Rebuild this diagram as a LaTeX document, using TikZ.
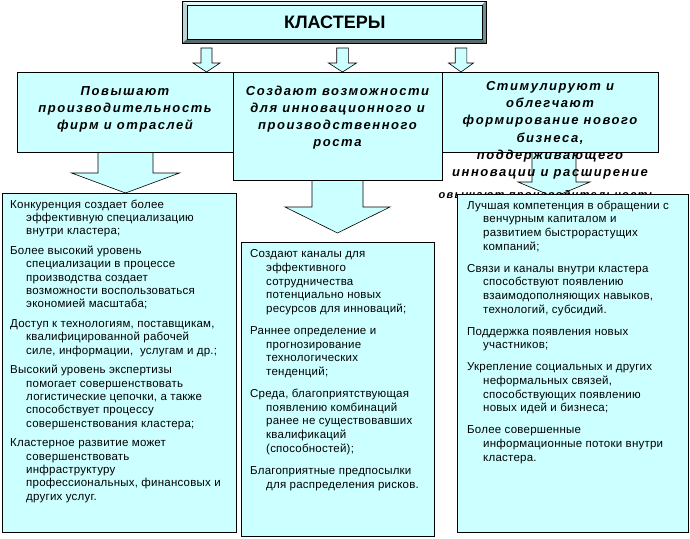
\documentclass[tikz,border=0pt]{standalone}
\usepackage{fontspec}
\setmainfont{Liberation Sans}
\newfontfamily\hdfont[LetterSpace=12]{Liberation Sans}
\newfontfamily\bdfont[LetterSpace=2]{Liberation Sans}
\definecolor{cl}{RGB}{204,255,255}
\definecolor{bevT}{RGB}{228,250,250}
\definecolor{bevL}{RGB}{185,215,215}
\definecolor{bevR}{RGB}{120,140,140}
\definecolor{bevB}{RGB}{90,105,105}
\newcommand{\barrow}[6]{%
  \draw[arr] ({#1-#5},#2) -- ({#1-#5},#3) -- ({#1-#6},#3) -- (#1,#4) -- ({#1+#6},#3) -- ({#1+#5},#3) -- ({#1+#5},#2) -- cycle;}
\newcommand{\ind}{\hspace*{16pt}}
\begin{document}
\begin{tikzpicture}[x=1pt,y=-1pt,
  box/.style={draw=black, fill=cl, line width=0.7pt},
  arr/.style={draw=black, fill=cl, line width=0.6pt},
  body/.style={font=\bdfont\fontsize{11.5}{#1}\selectfont, align=left, inner sep=0pt, anchor=base west},
  head/.style={font=\hdfont\bfseries\itshape\fontsize{13}{17}\selectfont, align=center, inner sep=0pt, anchor=base}]
\useasboundingbox (0,0) rectangle (690,538);
% title with bevel
\fill[bevB] (182,1) rectangle (486,43);
\fill[bevT] (182,1) -- (486,1) -- (482,5) -- (187,5) -- cycle;
\fill[bevL] (182,1) -- (187,5) -- (187,39) -- (182,43) -- cycle;
\fill[bevR] (486,1) -- (486,43) -- (482,39) -- (482,5) -- cycle;
\node[fill=cl, minimum width=295pt, minimum height=34pt, anchor=north west, inner sep=0pt] (title) at (187,5) {};
\draw[line width=0.6pt] (182,1) rectangle (486,43);
\draw[line width=0.4pt] (187,5) rectangle (482,39);
\node[font=\bfseries\fontsize{18}{20}\selectfont] (titletext) at (title.center) {КЛАСТЕРЫ};
% small arrows
\barrow{206.5}{48}{63}{72}{5.5}{13.5}
\barrow{342.5}{48}{63}{72}{5.8}{14}
\barrow{461}{48}{63}{72}{5.8}{12.5}
% big arrows (behind header boxes)
\barrow{125.5}{140}{173}{193}{27.5}{54}
\barrow{337.5}{170}{207}{233}{25.5}{52.5}
\barrow{554}{140}{182}{197}{22}{36}
% header boxes
\node[box, minimum width=216pt, minimum height=80pt, anchor=north west, inner sep=0pt] (h1) at (17,72) {};
\node[box, minimum width=216pt, minimum height=80pt, anchor=north west, inner sep=0pt] (h3) at (442,72) {};
\node[box, minimum width=209pt, minimum height=108pt, anchor=north west, inner sep=0pt] (h2) at (233,72) {};
% header texts (base anchor = baseline of last line)
\node[head] (t1) at (125,129.5) {Повышают\\производительность\\фирм и отраслей};
\node[head] (t2) at (337.5,146.5) {Создают возможности\\для инновационного и\\производственного\\роста};
\node[head, font=\hdfont\bfseries\itshape\fontsize{13}{17.2}\selectfont] (t3) at (550,176.5) {Стимулируют и\\облегчают\\формирование нового\\бизнеса,\\поддерживающего\\инновации и расширение};
\node[head, font=\hdfont\bfseries\itshape\fontsize{11}{13}\selectfont] (t3b) at (547,198.5) {овышают производительность};
% bottom boxes
\node[box, minimum width=234pt, minimum height=339pt, anchor=north west, inner sep=0pt] (b1) at (2,193) {};
\node[box, minimum width=193pt, minimum height=294pt, anchor=north west, inner sep=0pt] (b2) at (241,242) {};
\node[box, minimum width=231pt, minimum height=338pt, anchor=north west, inner sep=0pt] (b3) at (457,194) {};
% body texts (base anchor = baseline of last line)
\node[body=13.3] (x1) at (10,500) {Конкуренция создает более\\\ind эффективную специализацию\\\ind внутри кластера;\\[6.5pt]
Более высокий уровень\\\ind специализации в процессе\\\ind производства создает\\\ind возможности воспользоваться\\\ind экономией масштаба;\\[6.5pt]
Доступ к технологиям, поставщикам,\\\ind квалифицированной рабочей\\\ind силе, информации,\ \ услугам и др.;\\[6.5pt]
Высокий уровень экспертизы\\\ind помогает совершенствовать\\\ind логистические цепочки, а также\\\ind способствует процессу\\\ind совершенствования кластера;\\[6.5pt]
Кластерное развитие может\\\ind совершенствовать\\\ind инфраструктуру\\\ind профессиональных, финансовых и\\\ind других услуг.};
\node[body=13.6] (x2) at (250,488) {Создают каналы для\\\ind эффективного\\\ind сотрудничества\\\ind потенциально новых\\\ind ресурсов для инноваций;\\[8.7pt]
Раннее определение и\\\ind прогнозирование\\\ind технологических\\\ind тенденций;\\[8.7pt]
Среда, благоприятствующая\\\ind появлению комбинаций\\\ind ранее не существовавших\\\ind квалификаций\\\ind (способностей);\\[8.7pt]
Благоприятные предпосылки\\\ind для распределения рисков.};
\node[body=13.7] (x3) at (467,461) {Лучшая компетенция в обращении с\\\ind венчурным капиталом и\\\ind развитием быстрорастущих\\\ind компаний;\\[8.2pt]
Связи и каналы внутри кластера\\\ind способствуют появлению\\\ind взаимодополняющих навыков,\\\ind технологий, субсидий.\\[8.2pt]
Поддержка появления новых\\\ind участников;\\[8.2pt]
Укрепление социальных и других\\\ind неформальных связей,\\\ind способствующих появлению\\\ind новых идей и бизнеса;\\[8.2pt]
Более совершенные\\\ind информационные потоки внутри\\\ind кластера.};
\end{tikzpicture}
\end{document}
